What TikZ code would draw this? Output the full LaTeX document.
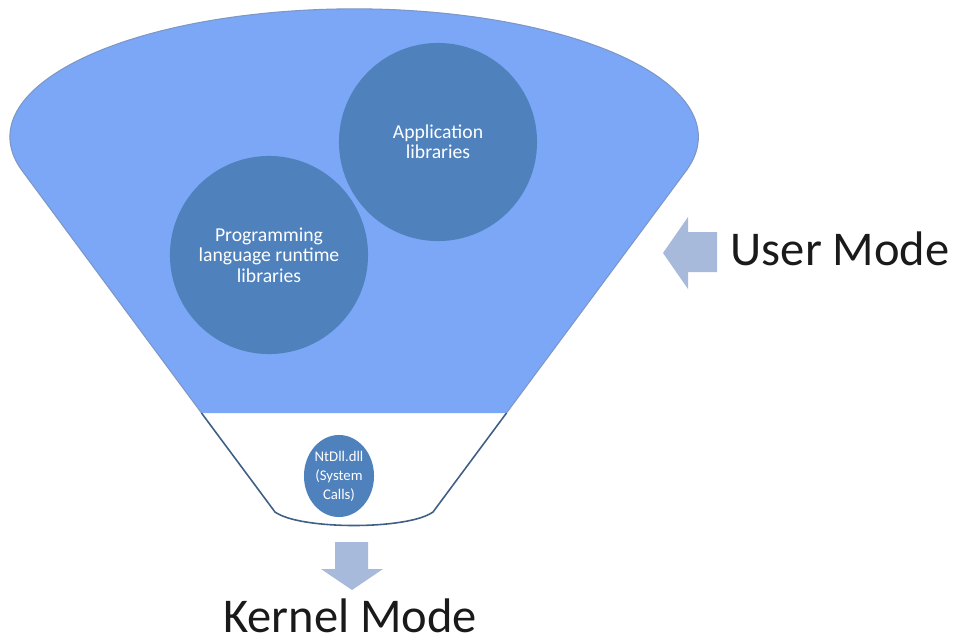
\documentclass[tikz,border=0pt]{standalone}
\usepackage{fontspec}
\setmainfont{Carlito}
\usetikzlibrary{shapes.geometric}
\definecolor{funnelblue}{HTML}{7BA7F6}
\definecolor{libblue}{HTML}{4F81BD}
\definecolor{rimline}{HTML}{3F5F86}
\definecolor{pointer}{HTML}{A7BADB}
\definecolor{inktext}{HTML}{1A1A1A}

\begin{document}
\begin{tikzpicture}[x=0.01cm,y=0.01cm,
			lib/.style={circle,fill=libblue,text=white,align=center,inner sep=0pt,minimum size=1.98cm,
				font=\fontsize{5.6}{5.8}\selectfont},
			syscall/.style={ellipse,fill=libblue,text=white,align=center,inner sep=0pt,
				minimum width=0.70cm,minimum height=0.82cm,font=\fontsize{4.2}{5.4}\selectfont},
			modelabel/.style={text=inktext,inner sep=0pt,font=\fontsize{13.8}{16}\selectfont},
			modearrow/.style={fill=pointer,draw=none}
			]
			\useasboundingbox (0,0) rectangle (957,-639);
			% user part of the funnel
			\fill[funnelblue] (21.7,-170.1) arc[start angle=195,end angle=-15,x radius=3.44cm,y radius=1.28cm]
				-- (506.5,-413) -- (201.5,-413) -- cycle;
			% faint rim round the blue part
			\draw[funnelblue!75!black!80,line width=0.3pt] (201.5,-413) -- (21.7,-170.1)
				arc[start angle=195,end angle=-15,x radius=3.44cm,y radius=1.28cm] -- (506.5,-413);
			% neck of the funnel
			\draw[rimline,line width=0.45pt] (506.5,-413) -- (433,-512) .. controls (408,-530) and (300,-530) .. (275,-512) -- (201.5,-413);
			\node[lib] (app) at (438,-142) {Application\\libraries};
			\node[lib] (prog) at (269,-255) {Programming\\language runtime\\libraries};
			\node[syscall] (ntdll) at (339,-476) {NtDll.dll\\(System\\Calls)};
			% block arrows
			\fill[modearrow] (717,-232) -- (688,-232) -- (688,-217) -- (663,-253) -- (688,-289) -- (688,-272) -- (717,-272) -- cycle;
			\fill[modearrow] (335,-542) -- (368,-542) -- (368,-569) -- (383,-569) -- (352,-590) -- (321,-569) -- (335,-569) -- cycle;
			\node[modelabel,anchor=base west] (user) at (730,-265) {User Mode};
			\node[modelabel,anchor=base] (kernel) at (350,-632) {Kernel Mode};
		\end{tikzpicture}
\end{document}
